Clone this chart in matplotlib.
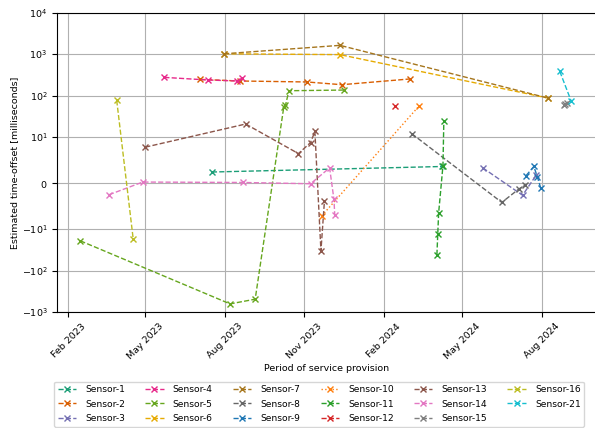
import pandas as pd
import matplotlib
matplotlib.use("Agg")
import matplotlib.pyplot as plt
import matplotlib.dates as mdates

plt.rcParams['font.size'] = 6.8

# time offsets per sensor (dates, milliseconds)
sensor_1_dates = ['2023-07-17', '2024-04-08']
sensor_1_vals = [2.4, 3.6]
sensor_2_dates = ['2023-07-03', '2023-08-18', '2023-11-04', '2023-12-14', '2024-03-02']
sensor_2_vals = [246, 225, 213, 183, 252]
sensor_3_dates = ['2024-05-25', '2024-07-10', '2024-07-26']
sensor_3_vals = [3.3, -2.65, 1.8]
sensor_4_dates = ['2023-05-23', '2023-07-12', '2023-08-15', '2023-08-21']
sensor_4_vals = [275, 238, 225, 260]
sensor_5_dates = ['2023-02-15', '2023-08-07', '2023-09-05', '2023-10-08', '2023-10-10', '2023-10-14', '2023-12-17']
sensor_5_vals = [-19.2, -637, -491, 52, 58, 131, 136]
sensor_6_dates = ['2023-07-31', '2023-12-12', '2024-08-08']
sensor_6_vals = [1020, 973, 87.5]
sensor_7_dates = ['2023-07-31', '2023-12-12', '2024-08-08']
sensor_7_vals = [1020, 1630, 87.5]
sensor_8_dates = ['2024-03-04', '2024-06-16', '2024-07-06', '2024-07-13']
sensor_8_vals = [12.0, -4.2, -1.24, -0.48]
sensor_9_dates = ['2024-07-14', '2024-07-23', '2024-07-27', '2024-07-31']
sensor_9_vals = [1.6, 3.6, 1.4, -1.1]
sensor_10_dates = ['2023-11-21', '2024-03-12']
sensor_10_vals = [-7.1, 55]
sensor_11_dates = ['2024-04-02', '2024-04-03', '2024-04-04', '2024-04-09', '2024-04-10']
sensor_11_vals = [-41.8, -13.0, -6.5, 3.8, 23.8]
sensor_12_dates = ['2024-02-14']
sensor_12_vals = [57]
sensor_13_dates = ['2023-05-01', '2023-08-25', '2023-10-25', '2023-11-08', '2023-11-13', '2023-11-20', '2023-11-24']
sensor_13_vals = [7.8, 20.6, 6.4, 8.8, 13.6, -33.4, -4.0]
sensor_14_dates = ['2023-03-20', '2023-04-28', '2023-08-22', '2023-11-08', '2023-11-30', '2023-12-05', '2023-12-06']
sensor_14_vals = [-2.54, 0.22, 0.13, -0.15, 3.3, -3.5, -7.0]
sensor_15_dates = ['2024-08-27', '2024-08-28', '2024-08-30']
sensor_15_vals = [60, 63, 66]
sensor_16_dates = ['2023-03-29', '2023-04-17']
sensor_16_vals = [76.6, -16.9]
sensor_21_dates = ['2024-08-22', '2024-09-04']
sensor_21_vals = [384, 75.3]

sensors = [
    ('Sensor-1', sensor_1_dates, sensor_1_vals, '#1b9e77'),
    ('Sensor-2', sensor_2_dates, sensor_2_vals, '#d95f02'),
    ('Sensor-3', sensor_3_dates, sensor_3_vals, '#7570b3'),
    ('Sensor-4', sensor_4_dates, sensor_4_vals, '#e7298a'),
    ('Sensor-5', sensor_5_dates, sensor_5_vals, '#66a61e'),
    ('Sensor-6', sensor_6_dates, sensor_6_vals, '#e6ab02'),
    ('Sensor-7', sensor_7_dates, sensor_7_vals, '#a6761d'),
    ('Sensor-8', sensor_8_dates, sensor_8_vals, '#666666'),
    ('Sensor-9', sensor_9_dates, sensor_9_vals, '#1f77b4'),
    ('Sensor-10', sensor_10_dates, sensor_10_vals, '#ff7f0e'),
    ('Sensor-11', sensor_11_dates, sensor_11_vals, '#2ca02c'),
    ('Sensor-12', sensor_12_dates, sensor_12_vals, '#d62728'),
    ('Sensor-13', sensor_13_dates, sensor_13_vals, '#8c564b'),
    ('Sensor-14', sensor_14_dates, sensor_14_vals, '#e377c2'),
    ('Sensor-15', sensor_15_dates, sensor_15_vals, '#7f7f7f'),
    ('Sensor-16', sensor_16_dates, sensor_16_vals, '#bcbd22'),
    ('Sensor-21', sensor_21_dates, sensor_21_vals, '#17becf'),
]

fig = plt.figure(figsize=(5.95, 4.28), dpi=100)
ax = fig.add_axes([57 / 595, 1 - 312 / 428, 540 / 595, 299.3 / 428])

for name, dates, vals, col in sensors:
    ls = ':' if name == 'Sensor-10' else '--'
    ax.plot(pd.to_datetime(dates), vals, linestyle=ls, marker='x', color=col,
            linewidth=1, markersize=5, label=name)

ax.set_yscale('symlog', linthresh=10)
ax.set_ylim(-1000, 10000)
ax.set_xlim(pd.Timestamp('2023-01-19'), pd.Timestamp('2024-10-04'))
ax.xaxis.set_major_locator(mdates.MonthLocator(bymonth=[2, 5, 8, 11]))
ax.xaxis.set_major_formatter(mdates.DateFormatter('%b %Y'))
plt.setp(ax.get_xticklabels(), rotation=45)
ax.grid(True)
ax.set_axisbelow(True)
ax.set_xlabel('Period of service provision', labelpad=2)
ax.set_ylabel('Estimated time-offset [milliseconds]', labelpad=1.5)

fig.legend(loc='upper left', bbox_to_anchor=(54 / 595, 1 - 381.5 / 428), ncol=6,
           fontsize=6.6, handletextpad=1.0, columnspacing=2.2,
           labelspacing=0.6, borderaxespad=0)

fig.savefig('out.png', dpi=100)
